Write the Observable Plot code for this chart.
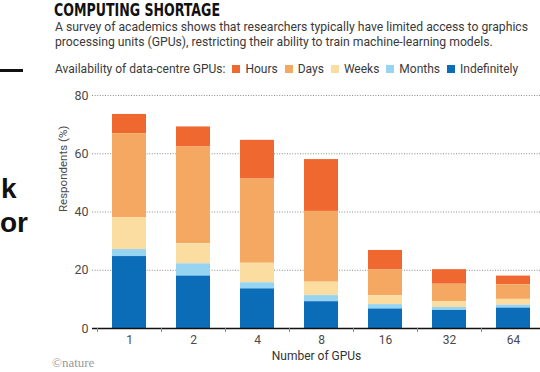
<!DOCTYPE html>
<html>
<head>
<meta charset="utf-8">
<script src="https://cdn.jsdelivr.net/npm/d3@7"></script>
<script src="https://cdn.jsdelivr.net/npm/@observablehq/plot@0.6"></script>
<style>
  body { margin:0; width:540px; height:372px; overflow:hidden; position:relative; background:#fff; font-family: Roboto, "Liberation Sans", sans-serif; color:#333; }
  .abs { position:absolute; white-space:nowrap; }
  #title { left:54px; top:1px; font-family:"DejaVu Sans Condensed","DejaVu Sans",sans-serif; font-weight:bold; font-size:18.5px; line-height:18px; color:#111; transform-origin:0 0; }
  #sub { left:55px; top:20px; font-size:12.2px; line-height:14.5px; color:#3a3a3a; }
  #legend { left:55px; top:62px; font-size:12px; line-height:14px; color:#3a3a3a; display:flex; align-items:center; }
  #legend .item { display:flex; align-items:center; margin-left:7px; }
  #legend .sw { width:8px; height:8px; margin-right:5px; }
  #chart { left:0; top:84px; }
  .frag { font-family:"Liberation Sans",Arial,sans-serif; font-weight:bold; font-size:28px; line-height:28px; color:#111; }
  #nature { left:52px; top:356px; font-family:"Liberation Serif",serif; font-size:13px; line-height:14px; color:#9a9a9a; }
</style>
</head>
<body>
<div class="abs" style="left:0;top:69px;width:23px;height:2.5px;background:#111"></div>
<div class="abs frag" style="left:1px;top:175px">k</div>
<div class="abs frag" style="left:0px;top:209px">or</div>
<div class="abs" id="title">COMPUTING SHORTAGE</div>
<div class="abs" id="sub">A survey of academics shows that researchers typically have limited access to graphics<br>processing units (GPUs), restricting their ability to train machine-learning models.</div>
<div class="abs" id="legend"></div>
<div class="abs" id="chart"></div>
<div class="abs" id="nature">©nature</div>
<script>
// Data (lower parts of the last three bars are hidden in the reference and estimated)
const categories = ["1", "2", "4", "8", "16", "32", "64"];
const seriesNames = ["Hours", "Days", "Weeks", "Months", "Indefinitely"];
const seriesColors = ["#ee6830", "#f5a862", "#fbdda2", "#97d4f1", "#0b6db7"];
const hours        = [6.6, 6.9, 13.3, 17.8, 6.6, 5.0, 3.0];
const days         = [28.8, 33.2, 28.9, 24.3, 9.0, 6.0, 5.0];
const weeks        = [11.0, 6.9, 6.7, 4.6, 3.0, 2.0, 2.0];
const months       = [2.4, 4.2, 2.1, 2.1, 1.5, 1.0, 1.0];
const indefinitely = [24.7, 18.0, 13.6, 9.2, 6.7, 6.2, 7.0];
const yTicks = [0, 20, 40, 60, 80];

const seriesValues = [hours, days, weeks, months, indefinitely];
const rows = [];
categories.forEach((c, i) => {
  seriesNames.forEach((s, j) => rows.push({category: c, series: s, value: seriesValues[j][i]}));
});

// Title fitting
const t = document.getElementById("title");
const tw = t.getBoundingClientRect().width;
t.style.transform = `scaleX(${166 / tw})`;

// Legend
const leg = document.getElementById("legend");
const lab = document.createElement("span");
lab.textContent = "Availability of data-centre GPUs:";
leg.appendChild(lab);
seriesNames.forEach((s, j) => {
  const it = document.createElement("span");
  it.className = "item";
  it.innerHTML = `<span class="sw" style="background:${seriesColors[j]}"></span>${s}`;
  leg.appendChild(it);
});

const plot = Plot.plot({
  width: 540,
  height: 288,
  marginLeft: 92,
  marginRight: 0,
  marginTop: 11,
  marginBottom: 44,
  style: {fontFamily: "Roboto, sans-serif", fontSize: "12px", color: "#444", background: "transparent", overflow: "visible"},
  x: {domain: categories, range: [97, 545], paddingInner: 0.47, paddingOuter: 0.235, label: null},
  y: {domain: [0, 80], label: null},
  color: {domain: seriesNames, range: seriesColors},
  marks: [
    Plot.gridY(yTicks.filter(d => d > 0), {stroke: "#8a8a8a", strokeOpacity: 1, strokeDasharray: "1,1.6", strokeWidth: 1}),
    Plot.barY(rows, {x: "category", y: "value", fill: "series", order: ["Indefinitely", "Months", "Weeks", "Days", "Hours"]}),
    Plot.ruleY([0], {stroke: "#111", strokeWidth: 1.6}),
    Plot.ruleX(categories, {x: d => d, dx: -32, y1: 0, y2: -1.4, stroke: "#888", strokeWidth: 1}),
    Plot.axisY({ticks: yTicks, tickSize: 0, tickPadding: 4, label: null, fontSize: 12.5, fill: "#4a4a4a"}),
    Plot.axisX({tickSize: 0, tickPadding: 7, label: null, fontSize: 12, fill: "#4a4a4a"}),
    Plot.text(["Respondents (%)"], {frameAnchor: "left", rotate: -90, dx: -29, fontSize: 11.5, fill: "#4a4a4a"}),
    Plot.text(["Number of GPUs"], {frameAnchor: "bottom", dy: 31, fontSize: 12, fill: "#333"})
  ]
});
document.getElementById("chart").appendChild(plot);
</script>
</body>
</html>
